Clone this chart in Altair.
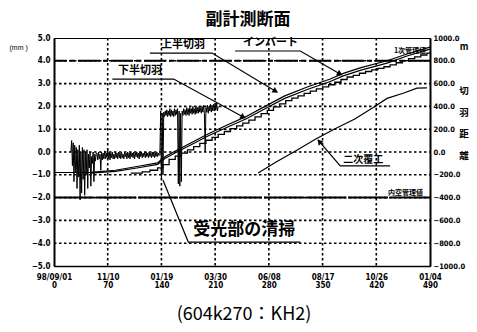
import math
import altair as alt
import pandas as pd

# ---------------- data ----------------
x_ticks = [0, 70, 140, 210, 280, 350, 420, 490]
x_dates = ['98/09/01', '11/10', '01/19', '03/30', '06/08', '08/17', '10/26', '01/04']
left_ticks = [5.0, 4.0, 3.0, 2.0, 1.0, 0.0, -1.0, -2.0, -3.0, -4.0, -5.0]
right_ticks = [1000, 800, 600, 400, 200, 0, -200, -400, -600, -800, -1000]

# face distances (m, right axis)
upper_days = [0, 25, 47, 80, 110, 135, 145, 160, 180, 200, 225, 250, 275, 300, 330, 360, 377, 400, 434, 460, 490]
upper_m = [-180, -180, -178, -160, -125, -95, -40, 15, 85, 155, 235, 310, 400, 490, 570, 640, 690, 740, 800, 860, 920]

lower_days = [47, 80, 110, 135, 145, 160, 180, 200, 225, 250, 275, 300, 330, 360, 377, 400, 434, 460, 490]
lower_m = [-186, -170, -138, -108, -55, 0, 68, 138, 215, 290, 380, 468, 548, 618, 668, 718, 780, 842, 902]

invert_days = [100, 115, 125, 135, 142, 150, 158, 166, 174, 182, 190, 198, 206, 214, 222, 230, 238, 246, 254,
               262, 270, 278, 286, 294, 302, 310, 318, 326, 334, 342, 350, 358, 366, 374, 382, 390, 398,
               406, 414, 422, 430, 438, 446, 454, 462, 470, 478, 486, 490]
invert_m = [-185, -175, -160, -140, -110, -65, -37, -9, 19, 47, 75, 103, 129, 155, 180, 205, 229, 253, 279,
            308, 337, 366, 395, 423, 450, 472, 493, 514, 534, 553, 572, 590, 612, 636, 658, 673, 691,
            706, 720, 734, 748, 764, 783, 801, 819, 835, 851, 867, 875]

lining_days = [266, 290, 317, 340, 365, 392, 416, 434, 455, 473, 486]
lining_m = [-185, -85, 18, 110, 200, 290, 390, 470, 515, 560, 562]

# displacement (mm, left axis), one reading per day from day 22
disp_first_day = 22
disp_mm = [
    0.0, 0.5, -0.6, 0.4, -1.3, 0.3, -0.9, 0.2, -1.6, 0.1, -1.1, 0.3, -2.1, 0.0, -1.8, 0.2, -1.2,
    0.1, -1.9, 0.0, -1.0, 0.1, -1.6, -0.1, -0.7, 0.0, -1.5, -0.2, -0.5, 0.0, -1.3, -0.1, -0.4, -0.05,
    -0.05, -0.35, 0.0, -0.3, -0.1, -0.8, 0.0, -0.35, -0.05, -0.3,
    0.05, -0.3, -0.05, -0.25, 0.1, -0.3, 0.0, -0.35, -0.05, -0.25,
    0.0, -0.3, -0.1, -0.3, 0.0, -0.25, -0.05, -0.3, 0.0, -0.25,
    -0.05, -0.3, 0.0, -0.25, -0.1, -0.3, 0.0, -0.2, -0.05, -0.3,
    0.0, -0.25, -0.05, -0.3, 0.0, -0.2, -0.05, -0.25, 0.0, -0.3,
    -0.05, -0.2, 0.0, -0.25, -0.05, -0.3, 0.0, -0.2, 0.0, -0.25,
    -0.05, -0.2, 0.0, -0.25, 0.0, -0.2, -0.05, -0.25, 0.0, -0.2,
    -0.05, -0.25, 0.0, -0.2, 0.0, -0.25, -0.05, -0.2, 0.0, -0.2,
    -0.05, -0.15,
    -0.1, 1.8, -1.2, 1.7, -1.0, 1.75,
    1.55, 1.8, 1.6, 1.85, 1.55, 1.8, 1.6, 1.9, 1.55, 1.85,
    1.6, 1.8, 1.55, 1.9, 1.6, 1.85, 1.65, 1.9,
    -1.4, 1.8, -1.5, 1.7, -1.3, 1.8,
    1.6, 1.9, 1.65, 1.85, 1.6, 1.95, 1.65, 1.9, 1.6, 1.95,
    1.7, 1.9, 1.65, 2.0, 1.7, 1.9, 1.65, 2.0, 1.7, 1.95,
    1.7, 2.0, 1.75, 1.95, 1.7, 2.0, 1.75, 2.05, 1.7, 0.0,
    1.95, 1.75, 2.05, 1.7, 2.0, 1.8, 2.1, 1.75, 2.05, 1.8,
    2.1, 1.8, 2.05, 1.85, 2.15, 1.8, 2.0,
]

limit_mm = [4.0, -2.0]
limit_names = ['1次管理値', '内空管理値']

series_names = ['上半切羽', '下半切羽', 'インバート', '二次覆工']

# ---------------- tables ----------------
disp_df = pd.DataFrame({'day': list(range(disp_first_day, disp_first_day + len(disp_mm))), 'mm': disp_mm})

face_df = pd.concat([
    pd.DataFrame({'s': series_names[0], 'day': upper_days, 'm': upper_m}),
    pd.DataFrame({'s': series_names[1], 'day': lower_days, 'm': lower_m}),
    pd.DataFrame({'s': series_names[3], 'day': lining_days, 'm': lining_m}),
])
inv_df = pd.DataFrame({'s': series_names[2], 'day': invert_days, 'm': invert_m})

# annotation leaders (day, mm)
leaders = {
    '上半切羽': [(125, 4.34), (206, 4.34), (291, 2.62)],
    '下半切羽': [(76, 3.2), (156, 3.2), (249, 1.49)],
    'インバート': [(236, 4.43), (321, 4.43), (375, 3.38)],
    '二次覆工': [(438, -0.61), (373, -0.61), (344, 0.53)],
    '受光部の清掃': [(321, -3.95), (175, -3.95), (142, -1.23)],
}
rows = []
for g, pts in leaders.items():
    for i, (d, v) in enumerate(pts):
        rows.append({'g': g, 'o': i, 'day': d, 'mm': v})
lead_df = pd.DataFrame(rows)

PX_DAY = 376 / 490
PX_MM = 228 / 10
arrows = []
for g in ['上半切羽', '下半切羽', 'インバート', '二次覆工']:
    (d1, v1), (d2, v2) = leaders[g][-2], leaders[g][-1]
    dx = (d2 - d1) * PX_DAY
    dy = -(v2 - v1) * PX_MM
    ang = math.degrees(math.atan2(dx, -dy)) % 360
    L = math.hypot(dx, dy)
    back = 3.0
    arrows.append({'day': d2 - dx / L * back / PX_DAY, 'mm': v2 + dy / L * back / PX_MM, 'ang': ang})
arrow_df = pd.DataFrame(arrows)

text_df = pd.DataFrame({
    'label': ['上半切羽', '下半切羽', 'インバート', '二次覆工', '受光部の清掃'],
    'day': [168, 112, 282, 403, 248],
    'mm': [4.7, 3.55, 4.78, -0.33, -3.42],
    'fs': [11, 11, 11, 10, 17],
})
limit_text_df = pd.DataFrame({'label': limit_names, 'day': [464, 458], 'mm': [4.42, -1.8]})
limit_df = pd.DataFrame({'mm': limit_mm})
vgrid_df = pd.DataFrame({'day': x_ticks[1:-1]})
hgrid_df = pd.DataFrame({'mm': left_ticks[1:-1]})

# ---------------- axes ----------------
label_expr = " : ".join(
    f"datum.value == {v} ? ['{d}', '{v}']" for v, d in zip(x_ticks, x_dates)
) + " : ''"

TICK_FONT = 'DejaVu Sans Condensed, Liberation Sans, sans-serif'

x_axis = alt.Axis(values=x_ticks, grid=False,
                  labelExpr=label_expr, labelFlush=False, labelOverlap=False, labelFontSize=8,
                  labelFont=TICK_FONT, labelFontWeight='bold', labelLineHeight=8,
                  labelPadding=7, labelColor='black', tickSize=0, domainColor='black', domainWidth=1.5,
                  title=None)
y_left_axis = alt.Axis(orient='left', values=left_ticks, format='.1f', grid=False,
                       labelFontSize=8, labelFont=TICK_FONT,
                       labelFontWeight='bold', labelColor='black', tickSize=0, labelPadding=4,
                       domainWidth=2, domainColor='black', labelOverlap=False,
                       title='(mm    )', titleAngle=0, titleX=-45, titleY=9, titleAlign='left',
                       titleBaseline='middle', titleFontSize=7, titleFontWeight='normal',
                       titleFont='Liberation Sans', titleColor='black')
y_right_axis = alt.Axis(orient='right', values=right_ticks, format='.1f', grid=False, labelFontSize=7.5,
                        labelFont=TICK_FONT, labelFontWeight='bold', labelColor='black',
                        tickSize=0, labelPadding=3, domainWidth=2, domainColor='black',
                        labelOverlap=False, title=None)

xs = alt.Scale(domain=[0, 490], nice=False, zero=False)
ys = alt.Scale(domain=[-5, 5], nice=False, zero=False)
rs = alt.Scale(domain=[-1000, 1000], nice=False, zero=False)

X = alt.X('day:Q', scale=xs, axis=x_axis)
Y = alt.Y('mm:Q', scale=ys, axis=y_left_axis)
R = alt.Y('m:Q', scale=rs, axis=y_right_axis)

JP = 'Noto Sans CJK JP'

vgrid = alt.Chart(vgrid_df).mark_rule(color='#000000', strokeWidth=1.6, strokeDash=[2.5, 2.5],
                                      opacity=1).encode(
    x=X, y=alt.value(0), y2=alt.value(228))
hgrid = alt.Chart(hgrid_df).mark_rule(color='#000000', strokeWidth=1.6, strokeDash=[2.5, 2.5],
                                      opacity=1).encode(
    y=Y, x=alt.value(0), x2=alt.value(376))

disp = alt.Chart(disp_df).mark_line(color='black', strokeWidth=1).encode(x=X, y=Y)

lim_top = alt.Chart(limit_df.iloc[[0]]).mark_rule(color='black', strokeWidth=2,
                                                  strokeDash=[22, 3, 5, 3]).encode(y=Y)
lim_bot = alt.Chart(limit_df.iloc[[1]]).mark_rule(color='black', strokeWidth=2,
                                                  strokeDash=[40, 2]).encode(y=Y)

lead = alt.Chart(lead_df).mark_line(color='black', strokeWidth=1.2).encode(
    x=X, y=Y, detail='g:N', order='o:Q')
arrow = alt.Chart(arrow_df).mark_point(shape='triangle', filled=True, size=40, color='black',
                                       opacity=1).encode(
    x=X, y=Y, angle=alt.Angle('ang:Q', scale=None))
texts = alt.Chart(text_df).mark_text(font=JP, fontWeight='bold', color='black',
                                     baseline='middle', align='center').encode(
    x=X, y=Y, text='label:N', size=alt.Size('fs:Q', scale=None, legend=None))
lim_texts = alt.Chart(limit_text_df).mark_text(font=JP, fontWeight='bold', color='black', fontSize=7,
                                               baseline='middle', align='center').encode(
    x=X, y=Y, text='label:N')

one = pd.DataFrame({'a': [0]})
title = alt.Chart(one).mark_text(text='副計測断面', font=JP, fontSize=17, fontWeight='bold',
                                 color='black', align='center', baseline='middle').encode(
    x=alt.value(194), y=alt.value(-18))
caption = alt.Chart(one).mark_text(text='(604k270：KH2)', font=JP, fontSize=18, color='black',
                                   align='center', baseline='middle').encode(
    x=alt.value(190), y=alt.value(277))
r_unit = alt.Chart(one).mark_text(text='m', font=JP, fontSize=9, fontWeight='bold', color='black',
                                  align='center', baseline='middle').encode(
    x=alt.value(410), y=alt.value(9))
r_title = alt.Chart(one).mark_text(text=['切', '羽', '距', '離'], lineHeight=21.5, font=JP, fontSize=9.5,
                                   fontWeight='bold', color='black', align='center',
                                   baseline='top').encode(
    x=alt.value(410), y=alt.value(48))

left = alt.layer(vgrid, hgrid, disp, lim_top, lim_bot, lead, arrow, texts, lim_texts,
                 title, caption, r_unit, r_title)

face = alt.Chart(face_df).mark_line(color='black', strokeWidth=1.2).encode(
    x=X, y=R, detail='s:N')
inv = alt.Chart(inv_df).mark_line(color='black', strokeWidth=1.3, interpolate='step-after').encode(
    x=X, y=R)
right = alt.layer(face, inv)

chart = alt.layer(left, right).resolve_scale(y='independent').properties(
    width=376, height=228,
    padding={'left': 46, 'top': 30, 'right': 39, 'bottom': 58},
    autosize='none', background='white',
).configure_view(stroke='black', strokeWidth=1)

chart.save('out.html', embed_options={'renderer': 'svg', 'actions': False})
